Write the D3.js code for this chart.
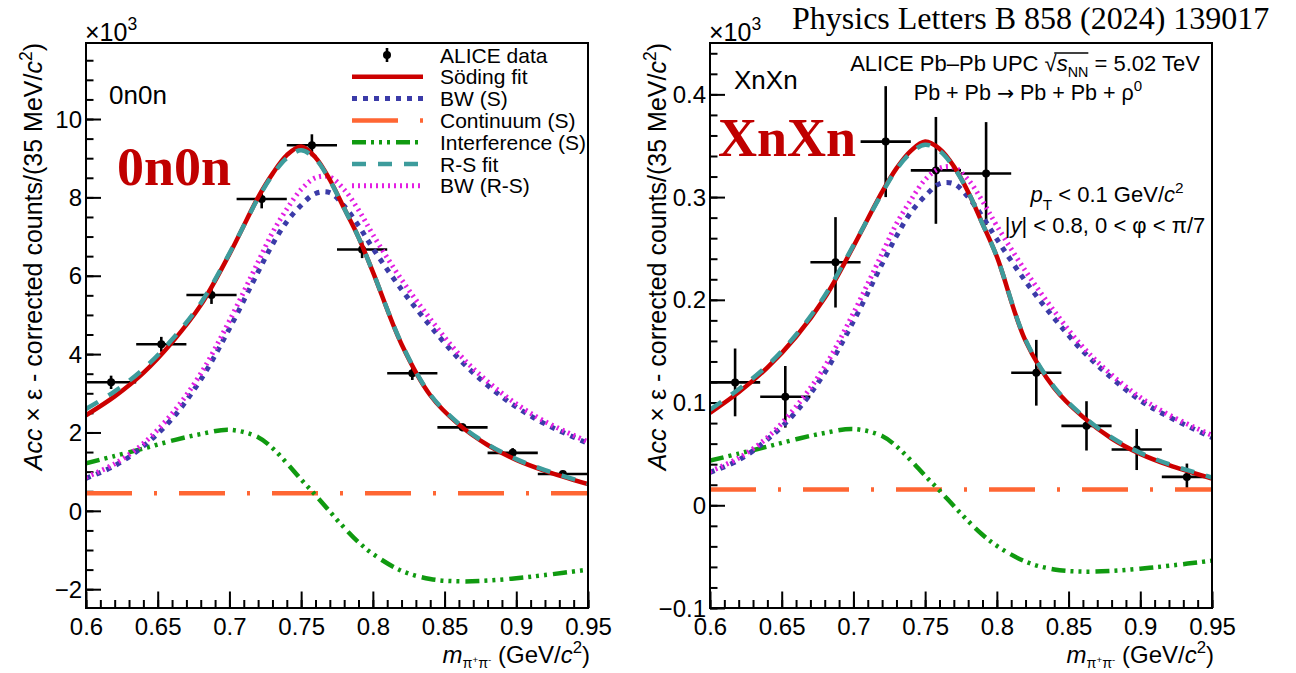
<!DOCTYPE html>
<html>
<head>
<meta charset="utf-8">
<script src="https://d3js.org/d3.v7.min.js"></script>
<style>
body { margin: 0; background: #fff; }
text { font-family: "Liberation Sans", Arial, Helvetica, sans-serif; fill: #000; }
</style>
</head>
<body>
<div id="chart"></div>
<script>
// measured pi+pi- spectra (x10^3 corrected counts per 35 MeV/c^2 bin)
var massBins = [0.6175, 0.6525, 0.6875, 0.7225, 0.7575, 0.7925, 0.8275, 0.8625, 0.8975, 0.9325];
var binHalfWidth = 0.0175;
var counts0n0n = [3.28, 4.25, 5.51, 7.96, 9.33, 6.67, 3.51, 2.13, 1.48, 0.94];
var errors0n0n = [0.17, 0.19, 0.23, 0.24, 0.28, 0.22, 0.17, 0.10, 0.12, 0.08];
var countsXnXn = [0.1196, 0.1056, 0.2365, 0.354, 0.326, 0.323, 0.129, 0.0773, 0.0543, 0.0276];
var errorsXnXn = [0.033, 0.030, 0.044, 0.054, 0.052, 0.050, 0.032, 0.024, 0.020, 0.013];

// fit curves
var curveMass = [0.60, 0.62, 0.64, 0.66, 0.68, 0.70, 0.72, 0.73, 0.74, 0.75, 0.76, 0.77, 0.78, 0.79, 0.80, 0.82, 0.84, 0.86, 0.88, 0.90, 0.92, 0.95];

var soding0n0n = [2.44, 2.92, 3.52, 4.30, 5.25, 6.55, 8.00, 8.60, 9.08, 9.30, 9.02, 8.45, 7.72, 6.98, 6.10, 4.25, 2.95, 2.20, 1.68, 1.30, 1.02, 0.68];
var rsFit0n0n  = [2.60, 3.05, 3.62, 4.37, 5.30, 6.57, 7.98, 8.57, 9.00, 9.20, 8.98, 8.43, 7.72, 6.98, 6.10, 4.27, 2.97, 2.22, 1.70, 1.32, 1.04, 0.70];
var bwS0n0n    = [0.83, 1.15, 1.65, 2.35, 3.35, 4.65, 6.10, 6.80, 7.38, 7.80, 8.10, 8.12, 7.78, 7.28, 6.70, 5.65, 4.72, 3.88, 3.20, 2.65, 2.22, 1.72];
var bwRS0n0n   = [0.86, 1.20, 1.72, 2.48, 3.50, 4.85, 6.35, 7.10, 7.70, 8.20, 8.50, 8.52, 8.20, 7.68, 7.05, 5.90, 4.90, 4.00, 3.30, 2.73, 2.28, 1.76];
var interf0n0n = [1.21, 1.40, 1.59, 1.79, 1.96, 2.07, 1.88, 1.60, 1.22, 0.80, 0.40, -0.02, -0.43, -0.80, -1.10, -1.53, -1.74, -1.80, -1.78, -1.72, -1.64, -1.50];
var continuum0n0n = 0.45;

var sodingXnXn = [0.090, 0.110, 0.134, 0.164, 0.202, 0.252, 0.305, 0.328, 0.345, 0.354, 0.347, 0.330, 0.305, 0.274, 0.242, 0.160, 0.114, 0.086, 0.065, 0.050, 0.039, 0.026];
var rsFitXnXn  = [0.093, 0.113, 0.136, 0.166, 0.204, 0.253, 0.304, 0.327, 0.343, 0.351, 0.345, 0.329, 0.305, 0.274, 0.242, 0.161, 0.115, 0.087, 0.066, 0.051, 0.040, 0.027];
var bwSXnXn    = [0.032, 0.044, 0.064, 0.091, 0.129, 0.179, 0.235, 0.262, 0.285, 0.301, 0.313, 0.313, 0.300, 0.281, 0.259, 0.218, 0.182, 0.150, 0.124, 0.102, 0.086, 0.066];
var bwRSXnXn   = [0.033, 0.046, 0.066, 0.096, 0.135, 0.187, 0.245, 0.274, 0.297, 0.317, 0.328, 0.329, 0.317, 0.296, 0.272, 0.228, 0.189, 0.154, 0.127, 0.105, 0.088, 0.068];
var interfXnXn = [0.0434, 0.0503, 0.0571, 0.0643, 0.0704, 0.0743, 0.0675, 0.0574, 0.0438, 0.0287, 0.0144, -0.0007, -0.0154, -0.0287, -0.0395, -0.0549, -0.0625, -0.0646, -0.0639, -0.0617, -0.0589, -0.0539];
var continuumXnXn = 0.0153;

// axis ticks
var xTicks = [0.6, 0.65, 0.7, 0.75, 0.8, 0.85, 0.9, 0.95];
var xTickLabels = ["0.6", "0.65", "0.7", "0.75", "0.8", "0.85", "0.9", "0.95"];
var yTicks0n0n = [-2, 0, 2, 4, 6, 8, 10];
var yTickLabels0n0n = ["\u22122", "0", "2", "4", "6", "8", "10"];
var yTicksXnXn = [-0.1, 0, 0.1, 0.2, 0.3, 0.4];
var yTickLabelsXnXn = ["\u22120.1", "0", "0.1", "0.2", "0.3", "0.4"];

var legendLabels = ["ALICE data", "S\u00f6ding fit", "BW (S)", "Continuum (S)", "Interference (S)", "R-S fit", "BW (R-S)"];

var w = 1296;
var h = 673;
var frameTop = 43;
var frameBottom = 608;
var frameWidth = 502;

var styles = {
    soding:    { color: "#cc0000", width: 4.5, dash: null },
    bwS:       { color: "#3b3ba8", width: 5, dash: "5,6" },
    continuum: { color: "#ff6633", width: 4.5, dash: "46,22,3,22" },
    interf:    { color: "#109a10", width: 4.5, dash: "14,5,3,5,3,5,3,6" },
    rsFit:     { color: "#3d9c9c", width: 4.5, dash: "14,12" },
    bwRS:      { color: "#e31ee3", width: 5, dash: "2,4" }
};

// text with italic / sub / superscript pieces
function richText(sel, x, y, segs, size, anchor){
    var t = sel.append("text")
        .attr("x", x)
        .attr("y", y)
        .attr("font-size", size)
        .attr("text-anchor", anchor || "start");
    var shift = 0;
    segs.forEach(function(s){
        var target = (s.shift || 0) * size;
        var ts = t.append("tspan").text(s.t).attr("dy", target - shift);
        if (s.fs) ts.attr("font-size", s.fs * size);
        if (s.it) ts.attr("font-style", "italic");
        if (s.ff) ts.style("font-family", s.ff);
        shift = target;
    });
    return t;
}

function styleLine(sel, st){
    sel.attr("fill", "none")
        .attr("stroke", st.color)
        .attr("stroke-width", st.width)
        .attr("stroke-dasharray", st.dash);
    return sel;
}

function drawPanel(svg, p){
    var xScale = d3.scaleLinear()
                    .domain([0.6, 0.95])
                    .range([p.left, p.left + frameWidth]);
    var yScale = d3.scaleLinear()
                    .domain(p.yDomain)
                    .range([frameBottom, frameTop]);

    var g = svg.append("g");

    g.append("clipPath")
        .attr("id", "clip" + p.id)
        .append("rect")
        .attr("x", p.left)
        .attr("y", frameTop)
        .attr("width", frameWidth)
        .attr("height", frameBottom - frameTop);

    // minor + major ticks, pointing into the frame
    var xMinor = d3.range(60, 96).map(function(d){ return d / 100; });
    var k0 = Math.ceil(p.yDomain[0] / p.minorStep - 1e-6);
    var k1 = Math.floor(p.yDomain[1] / p.minorStep + 1e-6);
    var yMinor = d3.range(k0, k1 + 1).map(function(k){ return k * p.minorStep; });

    var axes = g.append("g");
    axes.append("g")
        .attr("transform", "translate(0," + frameBottom + ")")
        .call(d3.axisBottom(xScale).tickValues(xMinor).tickSize(-8).tickFormat(""));
    axes.append("g")
        .attr("transform", "translate(0," + frameBottom + ")")
        .call(d3.axisBottom(xScale).tickValues(xTicks).tickSize(-16.5).tickPadding(10)
            .tickFormat(function(d, i){ return xTickLabels[i]; }));
    axes.append("g")
        .attr("transform", "translate(" + p.left + ",0)")
        .call(d3.axisLeft(yScale).tickValues(yMinor).tickSize(-7.5).tickFormat(""));
    axes.append("g")
        .attr("class", "yaxis")
        .attr("transform", "translate(" + p.left + ",0)")
        .call(d3.axisLeft(yScale).tickValues(p.yTicks).tickSize(-15).tickPadding(4)
            .tickFormat(function(d, i){ return p.yLabels[i]; }));

    axes.selectAll("path.domain").remove();
    axes.selectAll(".tick line").attr("stroke", "#000").attr("stroke-width", 2);
    axes.selectAll(".tick text")
        .attr("font-size", 24)
        .attr("font-family", "Liberation Sans, Arial, sans-serif")
        .attr("fill", "#000");
    axes.selectAll("g.yaxis .tick text").attr("dy", "0.34em");

    var plot = g.append("g").attr("clip-path", "url(#clip" + p.id + ")");

    // data points with bin-width and stat error bars
    var points = massBins.map(function(m, i){ return { m: m, v: p.counts[i], e: p.errors[i] }; });
    var pts = plot.selectAll("g.pt")
        .data(points)
        .enter()
        .append("g")
        .attr("class", "pt");
    pts.append("line")
        .attr("x1", function(d){ return xScale(d.m - binHalfWidth); })
        .attr("x2", function(d){ return xScale(d.m + binHalfWidth); })
        .attr("y1", function(d){ return yScale(d.v); })
        .attr("y2", function(d){ return yScale(d.v); })
        .attr("stroke", "#000")
        .attr("stroke-width", 2.6);
    pts.append("line")
        .attr("x1", function(d){ return xScale(d.m); })
        .attr("x2", function(d){ return xScale(d.m); })
        .attr("y1", function(d){ return yScale(d.v - d.e); })
        .attr("y2", function(d){ return yScale(d.v + d.e); })
        .attr("stroke", "#000")
        .attr("stroke-width", 2.6);
    pts.append("circle")
        .attr("cx", function(d){ return xScale(d.m); })
        .attr("cy", function(d){ return yScale(d.v); })
        .attr("r", 4)
        .attr("fill", "#000");

    var line = d3.line()
                .x(function(d, i){ return xScale(curveMass[i]); })
                .y(function(d){ return yScale(d); })
                .curve(d3.curveCatmullRom);

    styleLine(plot.append("line")
        .attr("x1", xScale(0.6)).attr("x2", xScale(0.95))
        .attr("y1", yScale(p.continuum)).attr("y2", yScale(p.continuum)), styles.continuum);
    styleLine(plot.append("path").attr("d", line(p.interf)), styles.interf);
    styleLine(plot.append("path").attr("d", line(p.bwS)), styles.bwS);
    styleLine(plot.append("path").attr("d", line(p.bwRS)), styles.bwRS);
    styleLine(plot.append("path").attr("d", line(p.soding)), styles.soding);
    styleLine(plot.append("path").attr("d", line(p.rsFit)), styles.rsFit);

    g.append("rect")
        .attr("x", p.left)
        .attr("y", frameTop)
        .attr("width", frameWidth)
        .attr("height", frameBottom - frameTop)
        .attr("fill", "none")
        .attr("stroke", "#000")
        .attr("stroke-width", 2);

    // axis titles and exponent
    richText(g, p.left - 1, 41, [{ t: "\u00d710" }, { t: "3", shift: -0.45, fs: 0.7 }], 25);

    var yTitle = g.append("g").attr("transform", "translate(" + (p.left - 44) + "," + frameTop + ") rotate(-90)");
    richText(yTitle, 0, 0, [
        { t: "Acc", it: 1 }, { t: " \u00d7 \u03b5 - corrected counts/(35 MeV/" },
        { t: "c", it: 1 }, { t: "2", shift: -0.4, fs: 0.7 }, { t: ")", shift: 0 }
    ], 25, "end");

    richText(g, p.left + frameWidth + 2, 663, [
        { t: "m", it: 1 }, { t: "\u03c0", shift: 0.22, fs: 0.6 }, { t: "+", shift: -0.02, fs: 0.4 },
        { t: "\u03c0", shift: 0.22, fs: 0.6 }, { t: "-", shift: -0.02, fs: 0.4 },
        { t: " (GeV/", shift: 0 }, { t: "c", it: 1 }, { t: "2", shift: -0.4, fs: 0.7 }, { t: ")", shift: 0 }
    ], 24, "end");

    // class labels
    g.append("text")
        .attr("x", p.tagX)
        .attr("y", p.tagY)
        .attr("font-size", 26)
        .text(p.tag);
    g.append("text")
        .attr("x", p.bigX)
        .attr("y", p.bigY)
        .attr("font-size", 54)
        .attr("font-weight", "bold")
        .style("font-family", "'Liberation Serif', 'Times New Roman', serif")
        .style("fill", "#c00000")
        .text(p.tag);

    return { xScale: xScale, yScale: yScale, g: g };
}

function init(){

    var svg = d3.select("#chart")
                .append("svg")
                .attr("width", w)
                .attr("height", h);

    svg.append("rect").attr("width", w).attr("height", h).attr("fill", "#fff");

    var left = drawPanel(svg, {
        id: "A", left: 86, yDomain: [-2.48, 11.94], minorStep: 0.5,
        yTicks: yTicks0n0n, yLabels: yTickLabels0n0n,
        counts: counts0n0n, errors: errors0n0n,
        soding: soding0n0n, rsFit: rsFit0n0n, bwS: bwS0n0n, bwRS: bwRS0n0n,
        interf: interf0n0n, continuum: continuum0n0n,
        tag: "0n0n", tagX: 109, tagY: 104, bigX: 117, bigY: 185
    });

    var right = drawPanel(svg, {
        id: "B", left: 710, yDomain: [-0.1, 0.45], minorStep: 0.02,
        yTicks: yTicksXnXn, yLabels: yTickLabelsXnXn,
        counts: countsXnXn, errors: errorsXnXn,
        soding: sodingXnXn, rsFit: rsFitXnXn, bwS: bwSXnXn, bwRS: bwRSXnXn,
        interf: interfXnXn, continuum: continuumXnXn,
        tag: "XnXn", tagX: 734, tagY: 89, bigX: 718, bigY: 156
    });

    // legend (left panel)
    var legend = left.g.append("g");
    var legendKeys = ["data", "soding", "bwS", "continuum", "interf", "rsFit", "bwRS"];
    legendKeys.forEach(function(key, i){
        var cy = 55 + i * 21.8;
        if (key === "data") {
            legend.append("line")
                .attr("x1", 387).attr("x2", 387)
                .attr("y1", cy - 7).attr("y2", cy + 7)
                .attr("stroke", "#000").attr("stroke-width", 2.6);
            legend.append("circle").attr("cx", 387).attr("cy", cy).attr("r", 4).attr("fill", "#000");
        } else {
            styleLine(legend.append("line")
                .attr("x1", 352).attr("x2", 423)
                .attr("y1", cy).attr("y2", cy), styles[key]);
        }
        legend.append("text")
            .attr("x", 440)
            .attr("y", cy + 7.5)
            .attr("font-size", 21)
            .text(legendLabels[i]);
    });

    // right panel annotations
    var rg = right.g;
    var alice = richText(rg, 1025, 71, [
        { t: "ALICE Pb\u2013Pb UPC " }, { t: "\u221a" }, { t: "s", it: 1 },
        { t: "NN", shift: 0.28, fs: 0.65 }, { t: " = 5.02 TeV", shift: 0 }
    ], 22, "middle");
    var node = alice.node();
    var rootBox = node.getExtentOfChar(16);
    var endBox = node.getExtentOfChar(19);
    rg.append("line")
        .attr("x1", rootBox.x + rootBox.width * 0.8)
        .attr("x2", endBox.x + endBox.width)
        .attr("y1", 71 - 18)
        .attr("y2", 71 - 18)
        .attr("stroke", "#000")
        .attr("stroke-width", 1.3);

    richText(rg, 1028, 100, [
        { t: "Pb + Pb " }, { t: "\u2192", ff: "'DejaVu Sans', sans-serif", fs: 0.95 },
        { t: " Pb + Pb + \u03c1" }, { t: "0", shift: -0.4, fs: 0.7 }
    ], 21.5, "middle");

    richText(rg, 1107, 202, [
        { t: "p", it: 1 }, { t: "T", shift: 0.35, fs: 0.7 }, { t: " < 0.1 GeV/", shift: 0 },
        { t: "c", it: 1 }, { t: "2", shift: -0.4, fs: 0.7 }
    ], 22, "middle");

    richText(rg, 1105, 233, [
        { t: "|" }, { t: "y", it: 1 }, { t: "| < 0.8, 0 < \u03c6 < \u03c0/7" }
    ], 22, "middle");

    svg.append("text")
        .attr("x", 792)
        .attr("y", 29)
        .attr("font-size", 32)
        .style("font-family", "'Liberation Serif', 'Times New Roman', serif")
        .text("Physics Letters B 858 (2024) 139017");
}

window.onload = init;
</script>
</body>
</html>
